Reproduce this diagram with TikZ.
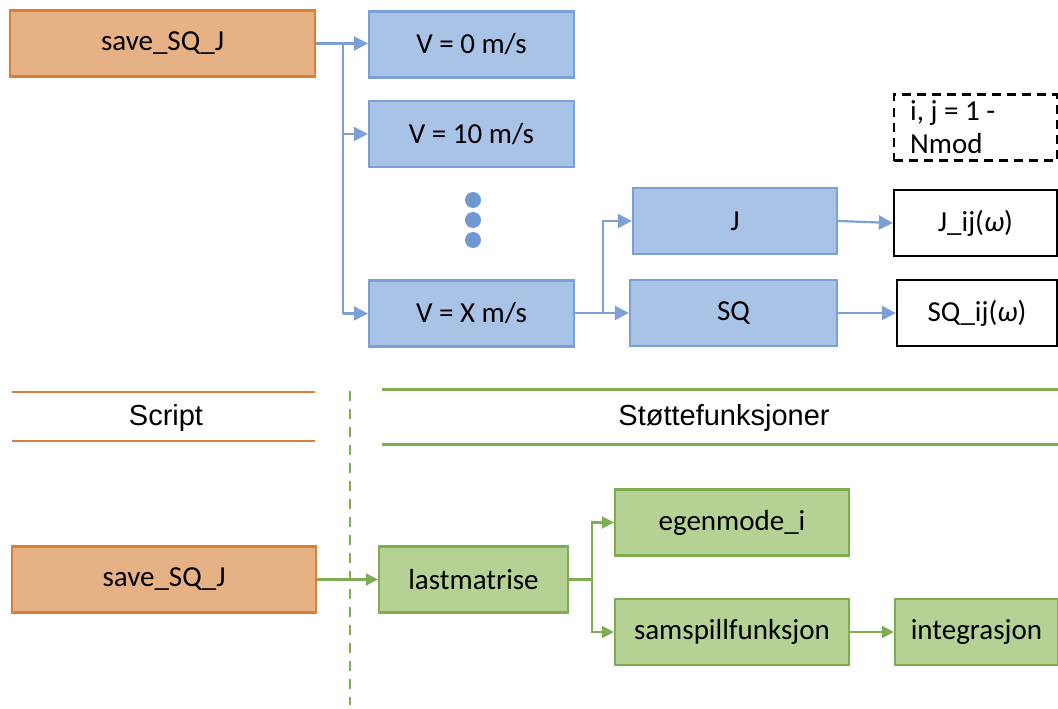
\documentclass[tikz,border=0pt]{standalone}
\usepackage{fontspec}
\setmainfont{Carlito}
\newfontfamily\labelfont{Liberation Sans}
\usetikzlibrary{arrows.meta}
\definecolor{orfill}{RGB}{229,177,133}
\definecolor{ordraw}{RGB}{222,125,55}
\definecolor{blfill}{RGB}{169,195,231}
\definecolor{bldraw}{RGB}{122,160,214}
\definecolor{bldot}{RGB}{112,152,210}
\definecolor{grfill}{RGB}{182,209,148}
\definecolor{grdraw}{RGB}{128,172,82}
\tikzset{
  box/.style={draw, line width=2.2pt, minimum width=#1, minimum height=66pt, inner sep=0pt,
    font=\fontsize{29}{34}\selectfont},
  box/.default={205pt},
  orbox/.style={box=#1, fill=orfill, draw=ordraw},
  blbox/.style={box=#1, fill=blfill, draw=bldraw},
  grbox/.style={box=#1, fill=grfill, draw=grdraw},
  wbox/.style={box=#1, fill=white, draw=black},
  blarrow/.style={draw=bldraw, line width=2.2pt, -{Triangle[length=14pt,width=14pt]}},
  grarrow/.style={draw=grdraw, line width=2.2pt, -{Triangle[length=12pt,width=12pt]}},
  bline/.style={draw=bldraw, line width=2.2pt},
  gline/.style={draw=grdraw, line width=2.2pt},
  rule/.style={line width=2.4pt},
  heading/.style={font=\labelfont\fontsize{29}{34}\selectfont},
}
\begin{document}
\begin{tikzpicture}[x=1pt, y=-1pt]
\useasboundingbox (0,0) rectangle (1058,709);

% upper part: load cases per wind speed
\node[orbox=305pt] (save1) at (162.5,43.5) {save\_SQ\_J};
\node[blbox] (v0) at (471.5,44.5) {V = 0 m/s};
\node[blbox] (v10) at (471.5,134) {V = 10 m/s};
\node[blbox] (vx) at (471.5,313.5) {V = X m/s};
\node[blbox=204pt] (j) at (735,221) {J};
\node[blbox=207pt] (sq) at (733.5,313) {SQ};
\node[wbox=163pt] (jij) at (975.5,223) {J\_ij(\textit{ω})};
\node[wbox=160pt] (sqij) at (977,313) {SQ\_ij(\textit{ω})};
\node[draw=black, line width=2.2pt, dash pattern=on 9pt off 6pt, minimum width=163pt,
  minimum height=66pt, inner sep=0pt] (range) at (975.5,127.5) {};
\node[anchor=west, align=left, inner sep=0pt, font=\fontsize{29}{33}\selectfont]
  (rangetext) at ([xshift=17pt]range.west) {i, j = 1 -\\Nmod};

\foreach \yy/\nm in {200/d1,220/d2,240/d3}
  \fill[bldot] (473,\yy) circle (8pt) coordinate (\nm);

\coordinate (trunk) at (343,43.5);
\draw[bline] (save1.east) -- (trunk);
\draw[blarrow] (trunk) -- (v0.west |- trunk);
\draw[bline] (trunk) -- (343,313.5);
\draw[blarrow] (343,134) -- (v10.west);
\draw[blarrow] (343,313.5) -- (vx.west);

\coordinate (fork) at (603,313);
\draw[bline] (vx.east |- fork) -- (fork);
\draw[blarrow] (fork) |- (j.west);
\draw[blarrow] (fork) -- (sq.west);
\draw[blarrow] (j.east) -- (jij.west);
\draw[blarrow] (sq.east) -- (sqij.west);

% separator with headings
\draw[ordraw, rule] (12,392) -- (315,392);
\draw[ordraw, rule] (12,441) -- (315,441);
\node[heading] (script) at (166,418) {Script};
\draw[grdraw, rule] (382,389.5) -- (1058,389.5);
\draw[grdraw, rule] (382,444.5) -- (1058,444.5);
\node[heading] (support) at (724,418) {Støttefunksjoner};
\draw[grdraw, line width=2.2pt, dash pattern=on 10pt off 8pt] (350,391) -- (350,705);

% lower part: helper functions
\node[orbox=304pt] (save2) at (164,579.5) {save\_SQ\_J};
\node[grbox=189pt] (last) at (473.5,579.5) {lastmatrise};
\node[grbox=234pt] (egen) at (732,522.5) {egenmode\_i};
\node[grbox=234pt] (samsp) at (732,632) {samspillfunksjon};
\node[grbox=163pt] (integ) at (976.5,632) {integrasjon};

\draw[grarrow] (save2.east) -- (last.west);
\coordinate (gfork) at (592,579.5);
\draw[gline] (last.east) -- (gfork);
\draw[grarrow] (gfork) |- (egen.west);
\draw[grarrow] (gfork) |- (samsp.west);
\draw[grarrow] (samsp.east) -- (integ.west);
\end{tikzpicture}
\end{document}
